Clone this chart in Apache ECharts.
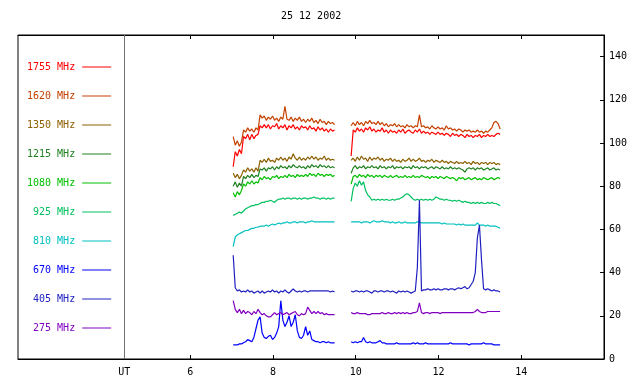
<!DOCTYPE html>
<html><head><meta charset="utf-8">
<script src="https://cdn.jsdelivr.net/npm/echarts@6/dist/echarts.min.js"></script>
<style>html,body{margin:0;padding:0;background:#fff}#c{width:640px;height:384px}</style>
</head><body><div id="c"></div>
<script>
const chartTitle = '25 12 2002';
const names = ['1755 MHz','1620 MHz','1350 MHz','1215 MHz','1080 MHz','925 MHz','810 MHz','670 MHz','405 MHz','275 MHz'];
const colors = ['#ff0000','#c44000','#8c6000','#208020','#00c000','#00c060','#00c0c0','#0000ff','#2020c0','#8000c0'];
const xTicks = [6,8,10,12,14];
const yTicks = [0,20,40,60,80,100,120,140];
const utHour = 4.405;
const gapHour = 9.69;
const xMin = 1.84, xMax = 16, yMin = 0, yMax = 150;

const hoursA = [7.04,7.09,7.14,7.19,7.24,7.29,7.34,7.39,7.44,7.49,
7.54,7.59,7.64,7.69,7.74,7.79,7.84,7.89,7.94,7.99,
8.04,8.09,8.14,8.19,8.24,8.29,8.34,8.39,8.44,8.49,
8.54,8.59,8.64,8.69,8.74,8.79,8.84,8.89,8.94,8.99,
9.04,9.09,9.14,9.19,9.24,9.29,9.34,9.39,9.44,9.49];
const hoursB = [9.89,9.94,9.99,10.04,10.09,10.14,10.19,10.24,10.29,10.34,
10.39,10.44,10.49,10.54,10.59,10.64,10.69,10.74,10.79,10.84,
10.89,10.94,10.99,11.04,11.09,11.14,11.19,11.24,11.29,11.34,
11.39,11.44,11.49,11.54,11.59,11.64,11.69,11.74,11.79,11.84,
11.89,11.94,11.99,12.04,12.09,12.14,12.19,12.24,12.29,12.34,
12.39,12.44,12.49,12.54,12.59,12.64,12.69,12.74,12.79,12.84,
12.89,12.94,12.99,13.04,13.09,13.14,13.19,13.24,13.29,13.34,
13.39,13.44,13.49];

const f1755a = [89,96,94,97,95,103,102,104,101.5,104,
102,103.5,104,108,107,108.5,107,108.5,106.5,108,
107.5,109,106.5,108,107,108.5,106,108,107,108.5,
106.5,107.5,106,108,107,107.5,106,108,106.5,107,
105.5,107.5,106,107,105.5,106.5,105,106.5,105.5,106];
const f1755b = [94,106,105,107,105.5,106.5,105,107,106,107.5,
105.5,106.5,105,106,105.5,107,105,106,104.5,106,
105,105.5,104.5,106,105,106.5,104.5,105.5,106,105,
104.5,106,105,106.5,104.5,105.5,104.5,105,104,105,
104.5,104,105,104,104.5,103.5,104.5,104,103,104.5,
103.5,104,103,104,103.5,102.5,104,103,103.5,102.5,
103.5,103,104,102.5,103.5,103,104,103,103.5,103,
104,104.5,104];

const f1620a = [103,99,101,98.5,100.5,106,105,107,105.5,106.5,
105,107,106,113,111.5,112.5,110.5,112,111,112.5,
110.5,111.5,110,112,111,117,111,110.5,112,110,
111.5,110.5,112,110,111,109.5,111,110,111.5,109.5,
110.5,109,111,109.5,110,108.5,110,109,109.5,108.5];
const f1620b = [108,109.5,108,110,108.5,109.5,108,110,109,110.5,
109,109.5,108.5,110,108.5,109.5,108,109,107.5,108.5,
108,109,107.5,108.5,107.5,108,107,108.5,107.5,108,
107,108,107.5,113,107.5,108,107,107.5,106.5,108,
107,106.5,107.5,106.5,107,106,108,106.5,107,106,
106.5,105.5,106.5,106,105,106,105.5,106,105,105.5,
105,106,105,105.5,104.5,105.5,105,106,107,109.5,
110,109,106.5];

const f1350a = [86,84,85.5,83.5,85,87.5,86.5,88.5,87,88,
86.5,88.5,87,92,91,92.5,91,93,91.5,92,
91,93,92,93.5,92,93,91.5,93.5,92.5,95,
93,92,93.5,92,93,92,93.5,92.5,94,92.5,
93.5,92,93,92.5,94,92,93,92,92.5,92];
const f1350b = [92,93,91.5,93.5,92,94,92.5,93,91.5,93.5,
92,93,92.5,93.5,92,93,91.5,92.5,92,93,
91.5,92.5,91.5,92,91,92.5,91.5,92,93,91.5,
92.5,91.5,92,93,91.5,92,91,92,91.5,92.5,
91,92,91.5,91,92,91,91.5,90.5,91.5,91,
90.5,91.5,90.5,91,90.5,91.5,90.5,91,90,91.5,
90.5,91,90,91,90.5,91,90,91,90.5,91,
90,90.5,90];

const f1215a = [80,82,79.5,81.5,80,84.5,83.5,85,84,85.5,
84,85,84.5,88,87.5,88.5,87,88.5,88,89,
87.5,89,88,89.5,88.5,89,88,89.5,88.5,90,
89,88.5,89.5,88.5,89,88,89.5,88.5,90,89,
89.5,88.5,90,89,89.5,88.5,89.5,88.5,89,88.5];
const f1215b = [86,88.5,89.5,88,89,88.5,89.5,88,89,88.5,
89.5,88.5,89,88,89.5,88.5,89,88,89,88.5,
89.5,88,89,88.5,89,88,89,88.5,89,88,
89.5,88.5,89,88,89,88.5,89,88,88.5,89,
88,89,88.5,88,89,88,88.5,88,89,88,
88.5,88,88.5,88,87.5,86.5,88,88.5,88,88.5,
87.5,88.5,88,88.5,87.5,88,88.5,87.5,88,88.5,
87.5,88,87.5];

const f1080a = [77,75,77.5,76,78,81,80,82,81,82.5,
81,82,81.5,84,83,84.5,83.5,84,83,84.5,
84,85,83.5,84.5,84,85,84,85.5,84.5,85,
84,85.5,84.5,85,84.5,85.5,84.5,86,85,85.5,
84.5,86,85,85.5,84.5,85.5,85,85.5,84.5,85];
const f1080b = [81,84.5,85,84,85.5,84.5,85,84,85.5,84.5,
85,84,85,84.5,85,84,85,84.5,84,85,
84,84.5,85,84,84.5,84,85,84,84.5,84,
85,84,84.5,84,85,84.5,84,84.5,83.5,84.5,
84,84.5,83.5,84.5,84,83.5,84.5,84,83.5,84,
83.5,82.5,84,83.5,84,83,83.5,84,83,83.5,
84,83,83.5,83,84,83.5,83,83.5,84,83,
83.5,84,83.5];

const f925a = [66.5,67,67.5,68,67.5,68.5,69.5,70,70.5,71,
71,71.5,71.5,72,72.5,72.5,73,73,73.5,73,
72.5,73.5,74,74,74.5,74,74.5,74.5,74,74.5,
74.5,74,74.5,74,74.5,74.5,74,74.5,74.5,75,
74.5,74.5,74,74.5,74.5,74,74.5,74,74.5,74.5];
const f925b = [73,79,81.5,80,82.5,80.5,82,78,76,75,
73.5,74,73.5,74,73.5,74,73.5,74,73.5,73.5,
74,73.5,74,74,74.5,75,76,76.5,76,75,
74,73.5,74,73.5,74,73.5,74,73.5,74,73.5,
74,75,74.5,74,74,73.5,74,73.5,73.5,73,
73.5,73,73.5,73,72.5,73,72.5,72.5,72,72.5,
72,72.5,72,72.5,72,72,72.5,72,72.5,72,
72,71.5,71];

const f810a = [52,56.5,57.5,58,58.5,59,59.5,59.5,60,60.5,
60.5,61,61,61.5,61.5,61.5,62,61.5,62,62.5,
62,62.5,63,62.5,63,63,63.5,63,63,63.5,
63.5,63,63.5,63.5,63.5,63,63.5,63.5,64,63.5,
63.5,63.5,63.5,63.5,63.5,63.5,63.5,63.5,63.5,63.5];
const f810b = [63.5,63.5,63.5,63.5,63.5,63,63.5,63.5,63.5,63,
63.5,64,63.5,63.5,63.5,64,63.5,63.5,63.5,63,
63.5,63,63,63.5,63,63,63.5,63,63,63,
63,63,63.5,63.5,63,63,63,63,63,63,
63,63,63,63,62.5,63,62.5,62.5,62.5,62.5,
62.5,62,62.5,62,62.5,62,62,62,62,62,
62,63,62,62,62,61.5,62,61.5,61.5,61.5,
61.5,61,60.5];

const f670a = [6.5,6.5,6.5,7,7,7.5,8,9,8.5,8,
10,14,18,19.5,12,10,9.5,10.5,11,9,
10,12,15,27,18,15,17,20,15,17,
20.5,13,10,9.5,11,15,11,13,9,8.5,
8,8,7.5,8,8,7.5,8,7.5,7.5,7.5];
const f670b = [8,7.5,8,7.5,8,8,10,8,7.5,8,
7.5,7.5,7.5,8,8.5,7.5,7.5,7,7,7,
7,7,7.5,7,7,7,7,7,7,7,
7.5,7,7.5,7,7,7,7.5,7,7,7,
7,7,7,7,7,7,7,7,7.5,7,
7,7,7,7,7,7,7,6.5,7,7,
7,7,7,7,7.5,7,7,7,7,6.5,
6.5,6.5,6.5];

const f405a = [48,33,31.5,32,31,31.5,31,32,31,31.5,
30.5,31,31.5,30.5,31.5,30.5,31,31.5,31,32,
31,31.5,30.5,31.5,31,32,31,30.5,31.5,32.5,
31.5,31,31.5,31,31.5,31.5,31,31.5,31.5,31.5,
31.5,31.5,31.5,31.5,31.5,31.5,31.5,31,31.5,31];
const f405b = [31.5,31,31.5,31.5,31,31.5,31,31.5,31.5,31,
30.5,31.5,31.5,31,31.5,31.5,31,31.5,31.5,31,
31.5,31,30.5,31.5,31,31.5,31,31.5,31,30.5,
31,31.5,42.5,73.5,31.5,32,32,32.5,32,32,
32.5,32,32.5,32,32,32.5,32.5,32,32.5,32.5,
32,32.5,33,32.5,33,33.5,32.5,33,34.5,36,
40,56,62,46,32.5,32,32.5,32,31.5,32,
31.5,31.5,31];

const f275a = [27,23,21.5,23,21,22.5,21,22,21.5,20.5,
22,21,23,21.5,20.5,21,20,19.5,19.5,20.5,
21.5,20.5,21,21.5,20.5,21,21.5,20.5,21,21.5,
22,20.5,20,21,20.5,21,24,22.5,21,22,
21,22,21,21.5,20.5,21,20.5,20.5,20.5,20.5];
const f275b = [21.5,21,21,21.5,21,21,21,21,20.5,20.5,
21,21,21,21,21,21.5,21,21,21.5,21,
21,21.5,21,21.5,21,21.5,21,21.5,21,21,
21.5,21.5,22,26,21.5,21,21.5,21.5,21,21.5,
21.5,21.5,21.5,21,21.5,21.5,21.5,21.5,21.5,21.5,
21.5,21.5,21.5,21.5,21.5,21.5,21.5,21.5,21.5,21.5,
22,23,22,21.5,21.5,21.5,22,22,22,22,
22,22,22];

const segA = [f1755a,f1620a,f1350a,f1215a,f1080a,f925a,f810a,f670a,f405a,f275a];
const segB = [f1755b,f1620b,f1350b,f1215b,f1080b,f925b,f810b,f670b,f405b,f275b];

const FONT = 'DejaVu Sans Mono';
function build(a, b) {
  return hoursA.map((t, i) => [t, a[i]])
    .concat([[gapHour, '-']])
    .concat(hoursB.map((t, i) => [t, b[i]]));
}

const chart = echarts.init(document.getElementById('c'), null, {renderer: 'canvas'});
const series = names.map((n, i) => ({
  name: n, type: 'line', xAxisIndex: 0, yAxisIndex: 0,
  symbol: 'none', showSymbol: false, silent: true, connectNulls: false,
  lineStyle: {color: colors[i], width: 1.2},
  itemStyle: {color: colors[i]},
  data: build(segA[i], segB[i]),
  z: 2
}));
series[0].markLine = {
  silent: true, symbol: ['none', 'none'], animation: false,
  label: {show: false},
  lineStyle: {color: '#707070', type: 'solid', width: 1},
  data: [{xAxis: utHour}]
};

chart.setOption({
  animation: false,
  backgroundColor: '#ffffff',
  title: {text: chartTitle, left: 281, top: 11, padding: 0,
    textStyle: {fontFamily: FONT, fontSize: 10, fontWeight: 'normal', color: '#000'}},
  legend: {
    orient: 'vertical', left: 27, top: 61, padding: 0, align: 'right',
    icon: 'rect', itemWidth: 29, itemHeight: 1, itemGap: 17, selectedMode: false,
    data: names.map((n, i) => ({name: n, textStyle: {color: colors[i]}})),
    textStyle: {fontFamily: FONT, fontSize: 10, padding: [0, 2, 0, 0], lineHeight: 12}
  },
  grid: {left: 18, right: 36, top: 35, bottom: 25, show: true, borderColor: '#000', borderWidth: 1, backgroundColor: 'transparent'},
  xAxis: [{
    type: 'value', min: xMin, max: xMax, position: 'bottom',
    axisLine: {show: true, lineStyle: {color: '#000', width: 1}},
    axisTick: {show: true, inside: true, length: 4, customValues: xTicks, lineStyle: {color: '#000'}},
    axisLabel: {customValues: [utHour].concat(xTicks),
      formatter: v => Math.abs(v - utHour) < 1e-6 ? 'UT' : String(v),
      fontFamily: FONT, fontSize: 10, color: '#000', margin: 8},
    splitLine: {show: false}
  }, {
    type: 'value', min: xMin, max: xMax, position: 'top',
    axisLine: {show: true, lineStyle: {color: '#000', width: 1}},
    axisTick: {show: true, inside: true, length: 4, customValues: xTicks, lineStyle: {color: '#000'}},
    axisLabel: {show: false},
    splitLine: {show: false}
  }],
  yAxis: {
    type: 'value', min: yMin, max: yMax, position: 'right',
    axisLine: {show: true, lineStyle: {color: '#000', width: 1}},
    axisTick: {show: true, inside: true, length: 4, customValues: yTicks, lineStyle: {color: '#000'}},
    axisLabel: {customValues: yTicks, fontFamily: FONT, fontSize: 10, color: '#000', margin: 5},
    splitLine: {show: false}
  },
  series: series
});
</script>
</body></html>
